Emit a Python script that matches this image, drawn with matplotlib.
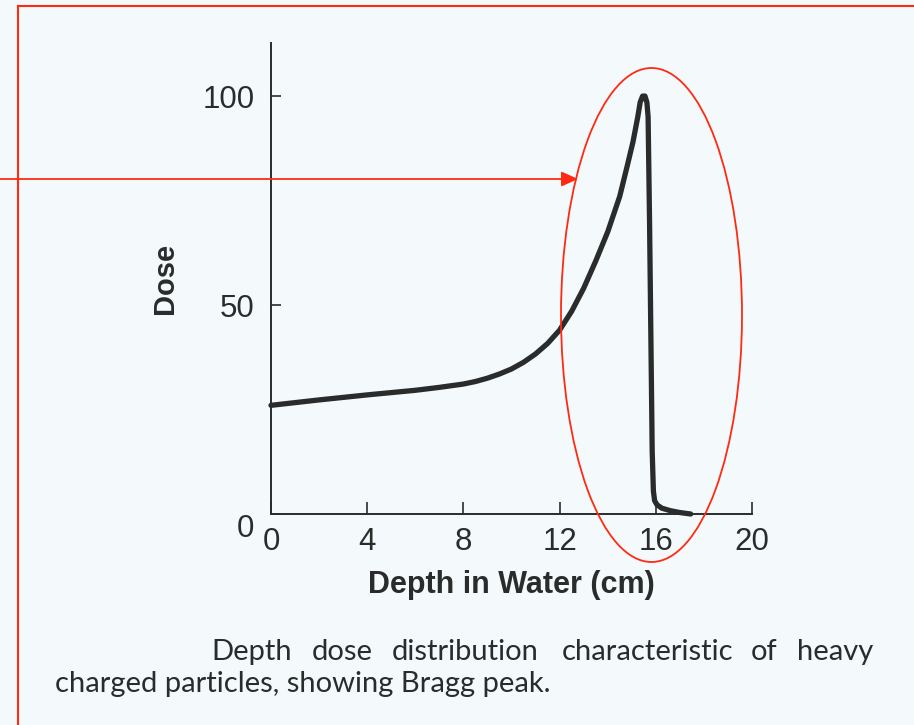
import matplotlib
matplotlib.use('Agg')
import matplotlib.pyplot as plt
from matplotlib.patches import Ellipse
from matplotlib.lines import Line2D
import numpy as np

# depth (cm) and relative dose
depth = [0, 2, 4, 6, 7, 8, 8.5, 9, 9.5, 10, 10.5, 11, 11.5, 12, 12.5, 13, 13.5,
         14, 14.5, 14.8, 15.05, 15.25, 15.35, 15.45, 15.55, 15.63, 15.68,
         15.74, 15.8, 15.85, 15.9, 15.95, 16.05, 16.25, 16.6, 17.0, 17.45]
dose = [26, 27.3, 28.5, 29.6, 30.3, 31.1, 31.7, 32.5, 33.5, 34.7, 36.3, 38.3,
        40.8, 44, 48.5, 54, 60.5, 67.5, 76, 83, 89, 95, 98.5, 100, 100, 98.5,
        95, 70, 40, 15, 5.5, 3.2, 2.2, 1.4, 0.8, 0.35, 0]

xticks = [0, 4, 8, 12, 16, 20]
yticks = [0, 50, 100]
caption_words = ['Depth', 'dose', 'distribution', 'characteristic', 'of', 'heavy']
caption_x = [211, 312, 392, 562, 751, 797]
caption_line2 = 'charged particles, showing Bragg peak.'

bg = '#f4f9fb'
ink = '#2a2c2c'
red = '#ff2a12'
tick_font = ['Liberation Sans Narrow', 'Liberation Sans']

W, H = 914, 725
fig = plt.figure(figsize=(W / 100, H / 100), dpi=100, facecolor=bg)
ax = fig.add_axes([271 / W, 1 - 514 / H, (752 - 271) / W, (514 - 43) / H])
ax.set_facecolor(bg)

ax.plot(depth, dose, color=ink, lw=3.8, solid_joinstyle='round',
        solid_capstyle='round', clip_on=False)

ax.set_xlim(0, 20)
ax.set_ylim(0, 112.7)
ax.spines['top'].set_visible(False)
ax.spines['right'].set_visible(False)
for s in ['left', 'bottom']:
    ax.spines[s].set_color(ink)
    ax.spines[s].set_linewidth(1.4)

ax.set_xticks(xticks)
ax.set_yticks(yticks)
ax.tick_params(direction='in', colors=ink, width=1.2, labelsize=22.5,
               labelcolor=ink)
ax.tick_params(axis='x', length=9, pad=9)
ax.tick_params(axis='y', length=7, pad=12)
for lab in ax.get_xticklabels() + ax.get_yticklabels():
    lab.set_family(tick_font)
ax.get_yticklabels()[0].set_va('top')

ax.set_xlabel('Depth in Water (cm)', fontsize=22, fontweight='bold',
              family='Liberation Sans', color=ink, labelpad=10)
ax.set_ylabel('Dose', fontsize=21, fontweight='bold',
              family='Liberation Sans', color=ink, labelpad=17)

# caption, first line justified word by word
for w, x in zip(caption_words, caption_x):
    fig.text(x / W, 1 - 652 / H, w, fontsize=21, family='Lato', color=ink,
             ha='left', va='center')
fig.text(55 / W, 1 - 684 / H, caption_line2, fontsize=21, family='Lato',
         color=ink, ha='left', va='center')

# red annotation: frame, arrow and ellipse
fig.add_artist(Line2D([18 / W, 1], [1 - 6 / H, 1 - 6 / H], color=red, lw=1.5,
                      transform=fig.transFigure))
fig.add_artist(Line2D([18 / W, 18 / W], [0, 1 - 6 / H], color=red, lw=1.5,
                      transform=fig.transFigure))
fig.add_artist(Ellipse((651.5 / W, 1 - 315 / H), 181 / W, 494 / H,
                       fill=False, edgecolor=red, lw=1.3,
                       transform=fig.transFigure))
ax.annotate('', xy=(578, H - 179), xytext=(0, H - 179),
            xycoords='figure pixels', textcoords='figure pixels',
            arrowprops=dict(arrowstyle='-|>,head_length=1.0,head_width=0.45',
                            color=red, lw=1.3, shrinkA=0, shrinkB=0))

fig.savefig('out.png', dpi=100, facecolor=bg)
